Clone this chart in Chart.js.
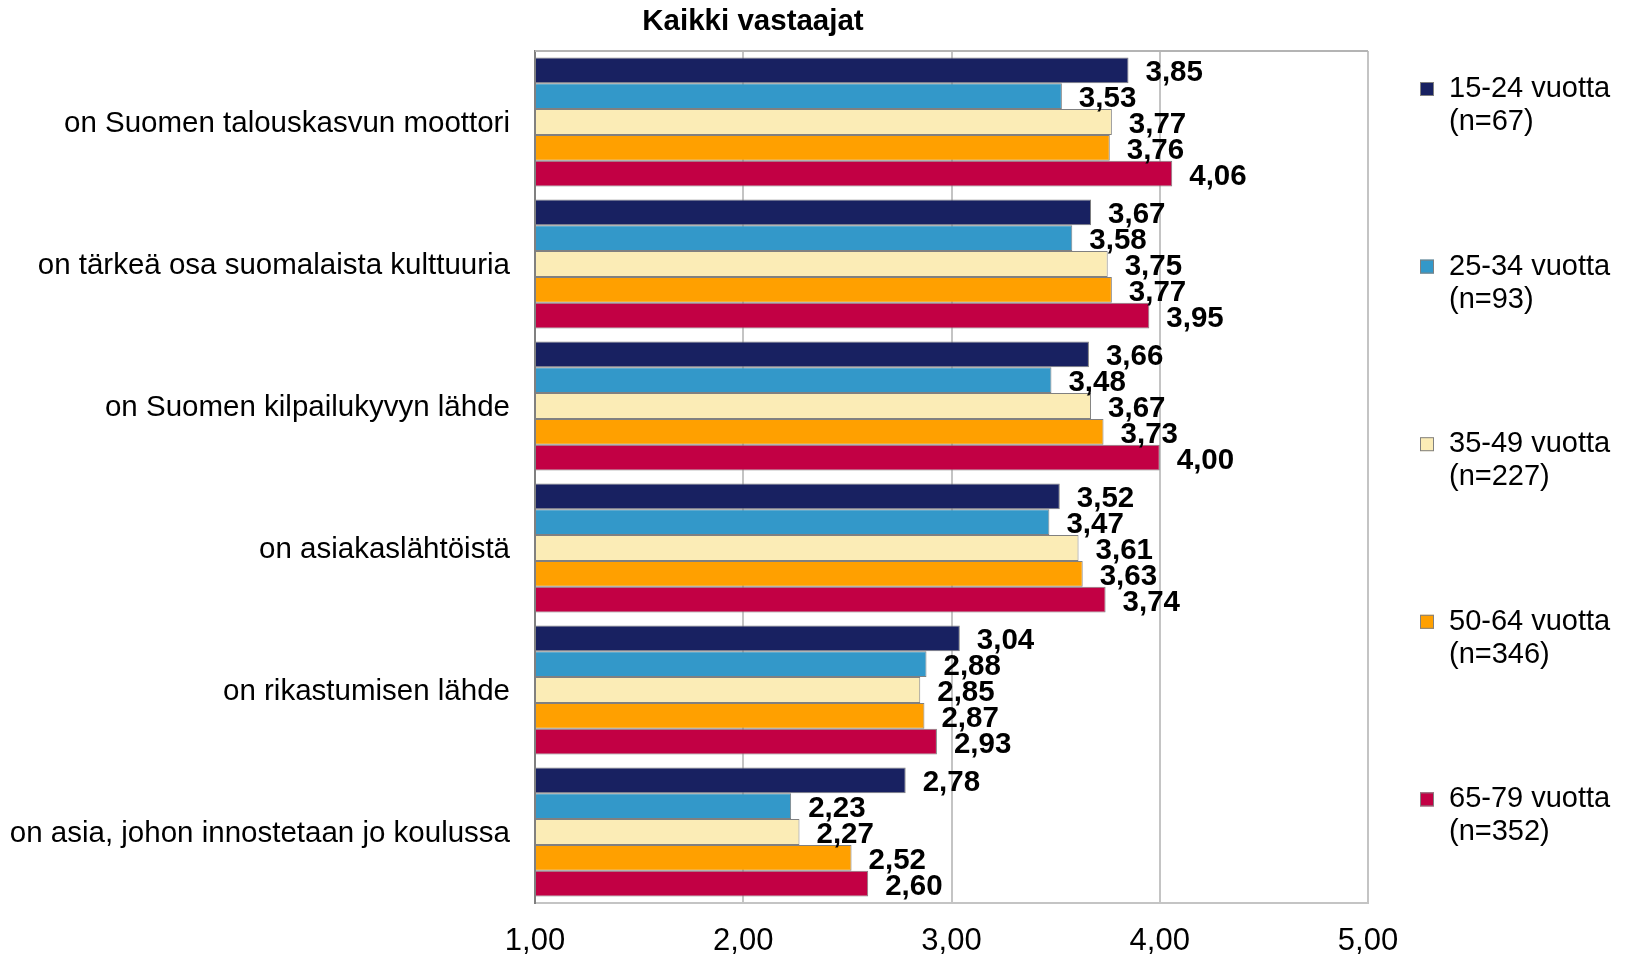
<!DOCTYPE html>
<html lang="fi">
<head>
<meta charset="utf-8">
<title>Kaikki vastaajat</title>
<script src="https://cdn.jsdelivr.net/npm/chart.js@4/dist/chart.umd.min.js"></script>
<style>
  body { margin: 0; background: #fff; }
  canvas { display: block; }
</style>
</head>
<body>
<canvas id="myChart" width="1629" height="956"></canvas>
<script>
//? DATOS DEL GRAFICO

const otsikko = "Kaikki vastaajat";
const kategoriat = [
  "on Suomen talouskasvun moottori",
  "on tärkeä osa suomalaista kulttuuria",
  "on Suomen kilpailukyvyn lähde",
  "on asiakaslähtöistä",
  "on rikastumisen lähde",
  "on asia, johon innostetaan jo koulussa",
];
const ikaryhmat = ["15-24 vuotta", "25-34 vuotta", "35-49 vuotta", "50-64 vuotta", "65-79 vuotta"];
const vastaajat = ["(n=67)", "(n=93)", "(n=227)", "(n=346)", "(n=352)"];
const ika15_24 = [3.85, 3.67, 3.66, 3.52, 3.04, 2.78];
const ika25_34 = [3.53, 3.58, 3.48, 3.47, 2.88, 2.23];
const ika35_49 = [3.77, 3.75, 3.67, 3.61, 2.85, 2.27];
const ika50_64 = [3.76, 3.77, 3.73, 3.63, 2.87, 2.52];
const ika65_79 = [4.06, 3.95, 4.0, 3.74, 2.93, 2.6];
const akseliTicks = [1, 2, 3, 4, 5];
const varit = ["#182161", "#3398c9", "#fbecb6", "#ffa000", "#c20044"];

const sarjat = [ika15_24, ika25_34, ika35_49, ika50_64, ika65_79];

//? FUNCION QUE FORMATEA NUMEROS (3,85)

function muotoile(v) {
  return v.toFixed(2).replace(".", ",");
}

//? PLUGIN: TITULO, BORDE SUPERIOR, ETIQUETAS Y LEYENDA

const piirrot = {
  id: "piirrot",
  beforeDatasetsDraw(chart) {
    const { ctx, chartArea } = chart;
    ctx.save();
    ctx.strokeStyle = "#b4b4b4";
    ctx.lineWidth = 2;
    ctx.beginPath();
    ctx.moveTo(chartArea.left, chartArea.top);
    ctx.lineTo(chartArea.right, chartArea.top);
    ctx.stroke();
    ctx.restore();
  },
  afterDatasetsDraw(chart) {
    const { ctx } = chart;
    ctx.save();
    ctx.fillStyle = "#000";
    ctx.textBaseline = "middle";

    // otsikko
    ctx.font = 'bold 29.5px "Liberation Sans", Arial, sans-serif';
    ctx.textAlign = "center";
    ctx.fillText(otsikko, 753, 22);

    // arvot palkkien perään
    ctx.font = 'bold 29.5px "Liberation Sans", Arial, sans-serif';
    ctx.textAlign = "left";
    chart.data.datasets.forEach((ds, i) => {
      chart.getDatasetMeta(i).data.forEach((bar, j) => {
        ctx.fillText(muotoile(ds.data[j]), bar.x + 17, bar.y + 3);
      });
    });

    // selite
    ctx.font = '29px "Liberation Sans", Arial, sans-serif';
    ikaryhmat.forEach((nimi, i) => {
      const y = 89 + i * 177.6;
      ctx.fillStyle = varit[i];
      ctx.fillRect(1420, y - 7, 14, 14);
      ctx.strokeStyle = "#808080";
      ctx.lineWidth = 1;
      ctx.strokeRect(1420.5, y - 6.5, 13, 13);
      ctx.fillStyle = "#000";
      ctx.fillText(nimi, 1449, y);
      ctx.fillText(vastaajat[i], 1449, y + 33);
    });
    ctx.restore();
  },
};

//? CREACION DEL GRAFICO

const datasets = sarjat.map((data, i) => ({
  label: ikaryhmat[i],
  data,
  base: 1,
  backgroundColor: varit[i],
  borderColor: "#808080",
  borderWidth: 1,
  categoryPercentage: 0.91,
  barPercentage: 1,
}));

Chart.defaults.font.family = '"Liberation Sans", Arial, sans-serif';
Chart.defaults.color = "#000";

const myChart = new Chart("myChart", {
  type: "bar",
  data: { labels: kategoriat, datasets },
  options: {
    indexAxis: "y",
    responsive: false,
    animation: false,
    layout: { padding: { top: 51, right: 261, bottom: 0, left: 0 } },
    plugins: {
      legend: { display: false },
      tooltip: { enabled: false },
      title: { display: false },
    },
    scales: {
      x: {
        min: 1,
        max: 5,
        afterBuildTicks: (axis) => {
          axis.ticks = akseliTicks.map((value) => ({ value }));
        },
        ticks: {
          callback: (v) => muotoile(v),
          font: { size: 31 },
          color: "#000",
          padding: 20,
          maxRotation: 0,
        },
        grid: { color: "#c4c4c4", lineWidth: 2, drawTicks: false },
        border: { display: true, color: "#c4c4c4", width: 2 },
        afterFit: (scale) => {
          scale.height = 53;
        },
      },
      y: {
        grid: { display: false, drawTicks: false },
        border: { display: true, color: "#808080", width: 2 },
        ticks: { font: { size: 29.5 }, color: "#000", padding: 25, labelOffset: 2 },
        afterFit: (scale) => {
          scale.width = 535;
        },
      },
    },
  },
  plugins: [piirrot],
});
</script>
</body>
</html>
